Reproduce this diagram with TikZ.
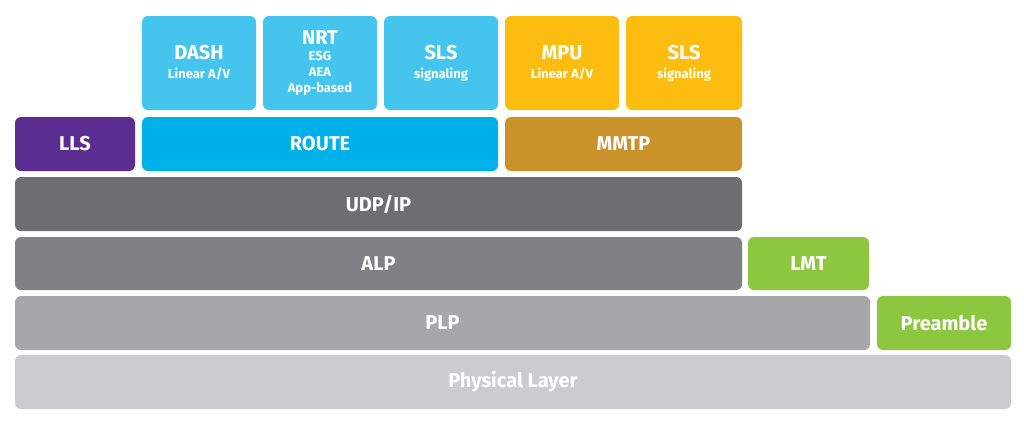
\documentclass[tikz,border=0pt]{standalone}
\usepackage{fontspec}
\setmainfont{Fira Sans}
\definecolor{skyblue}{HTML}{45C4EE}
\definecolor{routeblue}{HTML}{00B0E8}
\definecolor{llspurple}{HTML}{5B2D91}
\definecolor{mmtyellow}{HTML}{FDBD10}
\definecolor{mmtpbrown}{HTML}{C9922A}
\definecolor{udpgray}{HTML}{6D6E70}
\definecolor{alpgray}{HTML}{808184}
\definecolor{plpgray}{HTML}{A6A7AA}
\definecolor{phygray}{HTML}{CBCCCE}
\definecolor{lmtgreen}{HTML}{8DC63F}
\tikzset{
  layer/.style={draw=none, rounded corners=6pt, inner sep=0pt, text=white,
    font=\bfseries\fontsize{20}{22}\selectfont, align=center}
}
\newcommand{\subtxt}{\fontsize{13}{14}\selectfont}
% box from (x1,y1) to (x2,y2) in pixels
\newcommand{\layerbox}[7]{%
  \node[layer, fill=#6, minimum width={(#3-#1)*1pt}, minimum height={(#4-#2)*1pt}]
    (#5) at ({(#1+#3)/2*1pt},{-(#2+#4)/2*1pt}) {#7};}
\begin{document}
\begin{tikzpicture}
  \useasboundingbox (0,0) rectangle (1024pt,-424pt);
  % application layer
  \layerbox{142}{16}{256}{110}{dash}{skyblue}{DASH\\[-3pt]{\subtxt Linear A/V}}
  \layerbox{263}{16}{377}{110}{nrt}{skyblue}{NRT\\[-6pt]{\subtxt ESG}\\[-6pt]{\subtxt AEA}\\[-6pt]{\subtxt App-based}}
  \layerbox{384}{16}{498}{110}{slsa}{skyblue}{SLS\\[-3pt]{\subtxt signaling}}
  \layerbox{505}{16}{619}{110}{mpu}{mmtyellow}{MPU\\[-3pt]{\subtxt Linear A/V}}
  \layerbox{626}{16}{742}{110}{slsb}{mmtyellow}{SLS\\[-3pt]{\subtxt signaling}}
  % transport
  \layerbox{15}{117}{135}{171}{lls}{llspurple}{LLS}
  \layerbox{142}{117}{498}{171}{route}{routeblue}{ROUTE}
  \layerbox{505}{117}{742}{171}{mmtp}{mmtpbrown}{MMTP}
  % lower layers
  \layerbox{15}{177}{742}{231}{udp}{udpgray}{UDP/IP}
  \layerbox{15}{237}{742}{290}{alp}{alpgray}{ALP}
  \layerbox{748}{237}{869}{290}{lmt}{lmtgreen}{LMT}
  \layerbox{15}{296}{870}{350}{plp}{plpgray}{PLP}
  \layerbox{877}{296}{1011}{350}{preamble}{lmtgreen}{Preamble}
  \layerbox{15}{355}{1011}{409}{phy}{phygray}{Physical Layer}
\end{tikzpicture}
\end{document}
